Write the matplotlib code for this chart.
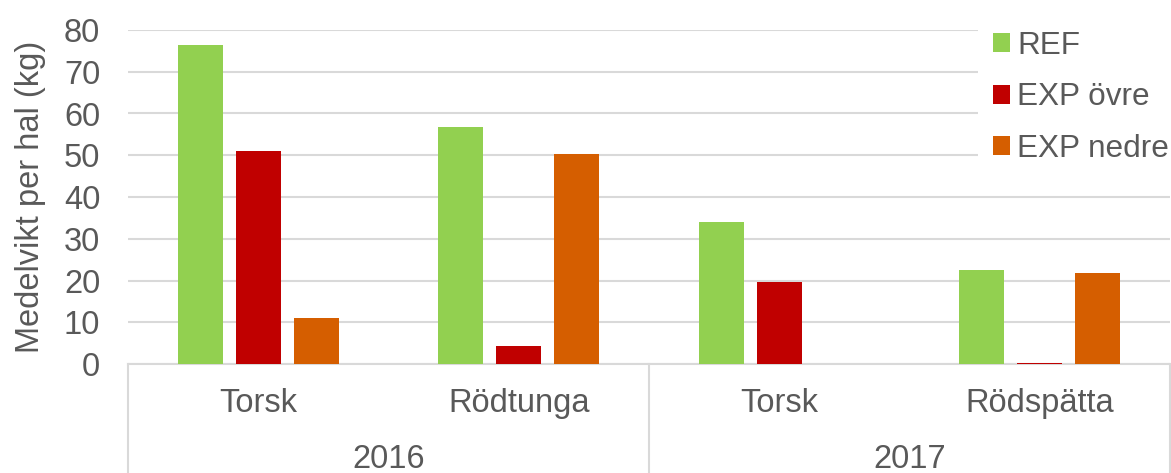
import matplotlib
matplotlib.use("Agg")
import matplotlib.pyplot as plt
from matplotlib.patches import Patch, Rectangle
from matplotlib.transforms import blended_transform_factory
import numpy as np

categories = ["Torsk", "Rödtunga", "Torsk", "Rödspätta"]
years = ["2016", "2017"]
series = ["REF", "EXP övre", "EXP nedre"]
ref = [76.3, 56.8, 33.9, 22.4]
exp_ovre = [50.9, 4.4, 19.6, 0.3]
exp_nedre = [10.9, 50.3, 0.1, 21.9]
colors = ["#92D050", "#C00000", "#D55E00"]
yticks = [0, 10, 20, 30, 40, 50, 60, 70, 80]

plt.rcParams['font.family'] = ['Liberation Sans', 'DejaVu Sans']
text_color = "#595959"
grid_color = "#D9D9D9"
fs = 23.5
lfs = 22.7

W, H = 1171, 473
fig = plt.figure(figsize=(W/100, H/100), dpi=100)
ax = fig.add_axes([128/W, 1-364/H, 1042/W, 334/H])

x = np.arange(len(categories))
offsets = [-0.223, 0.0, 0.223]
width = 0.173
for vals, off, c, name in zip([ref, exp_ovre, exp_nedre], offsets, colors, series):
    ax.bar(x + off, vals, width=width, color=c, label=name, zorder=3)

ax.set_xlim(-0.5, 3.5)
ax.set_ylim(0, 80)
ax.set_yticks(yticks)
ax.set_yticklabels([str(t) for t in yticks])
ax.yaxis.grid(True, color=grid_color, linewidth=1.5, zorder=0)
ax.set_axisbelow(True)
for s in ["left", "right", "top"]:
    ax.spines[s].set_visible(False)
ax.spines["bottom"].set_color(grid_color)
ax.spines["bottom"].set_linewidth(1.5)
ax.tick_params(axis="y", length=0, pad=20, labelsize=fs, labelcolor=text_color)
ax.tick_params(axis="x", length=0, pad=17, labelsize=fs, labelcolor=text_color)
ax.set_xticks(x)
ax.set_xticklabels(categories)

ax.set_ylabel("Medelvikt per hal (kg)", fontsize=fs, color=text_color, labelpad=13)

trans = blended_transform_factory(ax.transData, ax.transAxes)
for i, yr in enumerate(years):
    ax.text(2 * i + 0.5, -104/334, yr, transform=trans, ha="center", va="baseline",
            fontsize=fs, color=text_color)
for xs in [-0.5, 1.5, 3.5]:
    ax.plot([xs, xs], [0, -109/334], transform=trans, color=grid_color,
            linewidth=1.5, clip_on=False)

# white area behind the legend (hides the gridlines there)
ax.add_patch(Rectangle((978/W, 1-175/H), (W-978)/W, 170/H,
                       transform=fig.transFigure, facecolor="white",
                       edgecolor="none", zorder=2, clip_on=False))

handles = [Patch(facecolor=c, edgecolor="none") for c in colors]
leg = ax.legend(handles, series, loc="upper left",
                bbox_to_anchor=((993-128)/1042, 1.0 - 1/334),
                frameon=False, fontsize=lfs, handlelength=0.54, handleheight=0.54,
                handletextpad=0.22, labelspacing=0.68, borderpad=0, borderaxespad=0)
leg.set_zorder(6)
for t in leg.get_texts():
    t.set_color(text_color)

fig.savefig("out.png", dpi=100)
